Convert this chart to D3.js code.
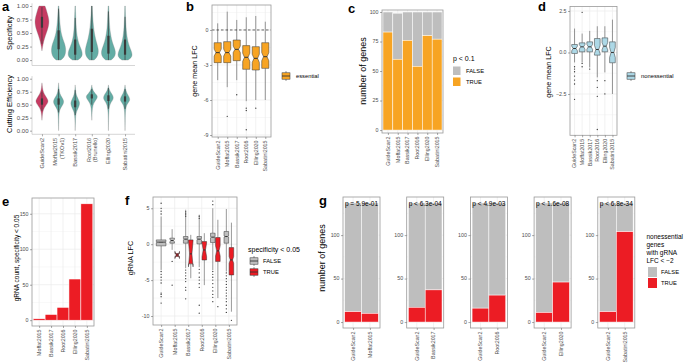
<!DOCTYPE html>
<html><head><meta charset="utf-8">
<script src="https://cdn.jsdelivr.net/npm/d3@7"></script>
<style>body{margin:0;background:#fff}svg{display:block}</style>
</head><body><script>
// ================= DATA =================
const libraries = ["GuideScan2","Moffat2015","Bassik2017","Root2016","Elling2020","Sabatini2015"];
const aLabels = ["GuideScan2","Moffat2015\n(TKOv1)","Bassik2017","Root2016\n(Brunello)","Elling2020","Sabatini2015"];
const aTicks = [0,0.25,0.5,0.75,1];
// violin density profiles: [value, relative width]
const specDensity = [
  [[0.17,0],[0.25,0.08],[0.35,0.24],[0.45,0.46],[0.55,0.75],[0.65,0.93],[0.72,0.97],[0.8,0.88],[0.9,0.66],[0.97,0.5],[1.0,0.4]],
  [[0.0,0.3],[0.05,0.75],[0.12,0.95],[0.2,1.0],[0.3,0.85],[0.4,0.55],[0.5,0.35],[0.6,0.25],[0.7,0.17],[0.8,0.12],[0.9,0.08],[1.0,0.04]],
  [[0.0,0.35],[0.05,0.85],[0.1,1.0],[0.18,0.9],[0.25,0.65],[0.35,0.4],[0.45,0.25],[0.55,0.17],[0.65,0.12],[0.8,0.08],[0.9,0.05],[1.0,0.03]],
  [[0.0,0.3],[0.05,0.7],[0.12,0.9],[0.2,0.9],[0.3,0.7],[0.4,0.5],[0.5,0.35],[0.6,0.25],[0.7,0.18],[0.8,0.12],[0.9,0.08],[1.0,0.05]],
  [[0.0,0.35],[0.05,0.8],[0.12,1.0],[0.2,0.9],[0.3,0.6],[0.4,0.4],[0.5,0.27],[0.6,0.18],[0.7,0.13],[0.8,0.1],[0.9,0.07],[1.0,0.04]],
  [[0.0,0.4],[0.05,0.9],[0.1,1.0],[0.17,0.85],[0.25,0.6],[0.35,0.38],[0.45,0.25],[0.55,0.17],[0.65,0.12],[0.8,0.07],[0.9,0.05],[1.0,0.03]]
];
const specBox = [[0.3,0.6,0.7,0.8,0.98],[0.0,0.2,0.35,0.55,0.95],[0.0,0.1,0.2,0.38,0.78],[0.0,0.15,0.35,0.58,1.0],[0.0,0.12,0.25,0.45,0.9],[0.0,0.1,0.2,0.38,0.8]];
const cutDensity = [
  [[0.2,0],[0.3,0.05],[0.4,0.16],[0.48,0.5],[0.53,0.8],[0.58,0.86],[0.63,0.66],[0.7,0.33],[0.78,0.1],[0.88,0.03],[0.92,0]],
  [[0.0,0],[0.1,0.02],[0.3,0.04],[0.4,0.13],[0.47,0.44],[0.52,0.66],[0.57,0.72],[0.62,0.55],[0.68,0.27],[0.75,0.1],[0.85,0.03],[0.92,0]],
  [[0.0,0],[0.2,0.03],[0.35,0.1],[0.42,0.38],[0.5,0.6],[0.55,0.6],[0.6,0.44],[0.66,0.22],[0.73,0.08],[0.82,0.02],[0.88,0]],
  [[0.2,0],[0.35,0.03],[0.5,0.13],[0.58,0.5],[0.63,0.76],[0.67,0.76],[0.71,0.5],[0.76,0.2],[0.82,0.05],[0.88,0]],
  [[0.0,0],[0.2,0.02],[0.4,0.05],[0.52,0.22],[0.58,0.56],[0.63,0.7],[0.68,0.6],[0.74,0.3],[0.8,0.08],[0.88,0]],
  [[0.0,0],[0.2,0.02],[0.4,0.06],[0.5,0.22],[0.56,0.56],[0.6,0.67],[0.65,0.56],[0.72,0.24],[0.8,0.06],[0.88,0]]
];
const cutBox = [[0.38,0.5,0.56,0.62,0.75],[0.35,0.5,0.56,0.62,0.8],[0.3,0.45,0.52,0.58,0.78],[0.5,0.62,0.66,0.7,0.8],[0.42,0.57,0.63,0.68,0.82],[0.42,0.56,0.61,0.66,0.8]];

// b: essential gene mean LFC  [lo, q1, median, q3, hi]
const bTicks = [0,-3,-6,-9];
const bStats = [[-4.3,-2.8,-1.94,-1.09,0.57],[-4.9,-2.8,-1.94,-1.0,1.57],[-4.3,-2.63,-1.66,-0.86,0.86],[-6.1,-3.37,-2.34,-1.34,1.09],[-6.0,-3.43,-2.43,-1.43,1.2],[-6.0,-3.29,-2.29,-1.09,0.71]];
const bNotch = [0.3,0.3,0.28,0.35,0.35,0.35];
const bOutliers = [[],[-7.4],[-5.55],[-6.7,-6.9,-8.55],[-6.7],[]];

// c: genes with p < 0.1
const cTrue = [83,60,76,54,80,77];
const cTotal = [100,99,100,100,100,100];
const cTicks = [0,25,50,75,100];

// d: nonessential gene mean LFC
const dTicks = [2.5,0,-2.5];
const dStats = [[-0.6,-0.06,0.24,0.48,1.44],[-0.6,0.04,0.34,0.58,1.14],[-0.9,0.04,0.34,0.64,1.3],[-1.5,-0.16,0.18,0.84,1.58],[-1.2,0.04,0.38,0.88,1.58],[-2.5,-0.62,0.0,0.64,1.98]];
const dNotch = [0.14,0.14,0.15,0.25,0.22,0.3];
const dOutliers = [[-0.86,-1.0,-1.16,-1.42,-1.66,-1.9,-2.82],[-0.66,-0.86,2.42],[-1.0],[-1.7,-2.1,-2.64,-4.64],[-1.7,-2.5],[]];

// e: low-specificity gRNA counts
const eLibraries = ["Moffat2015","Bassik2017","Root2016","Elling2020","Sabatini2015"];
const eCounts = [2,8,18,58,164];
const eTicks = [0,50,100,150];

// f: gRNA LFC by specificity < 0.05
const fTicks = [5,0,-5,-10];
const fFalseStats = [[-3.58,-0.23,0.28,0.6,3.86],[-0.79,0.14,0.51,0.84,2.09],[-3.35,0.14,0.7,1.07,4.8],[-3.2,0.05,0.7,1.07,4.1],[-3.6,0.23,0.98,1.53,5.0],[-3.8,0.14,1.07,1.77,4.9]];
const fFalseNotch = [0.06,0.15,0.08,0.08,0.08,0.08];
const fFalseOutliers = [
  [4.2,4.6,5.0,5.7,-3.8,-4.2,-4.6,-5.0,-5.4,-6.8,-7.0,-7.3,-8.2],
  [-2.4,-5.7],
  [4.5,4.2,3.9,-3.6,-4.0,-4.4,-4.8,-5.2,-6.0,-6.4,-7.6],
  [3.9,3.6,-3.5,-4.0,-4.6,-5.0,-5.5,-6.0,-8.5,-9.6],
  [5.5,6.0,-3.8,-4.2,-4.6,-5.0,-5.5,-6.0,-6.5,-7.0,-7.4,-8.0],
  [-4.0,-4.4,-4.8,-5.2,-5.6,-6.0,-6.4,-6.8,-7.2,-7.6,-8.0,-8.5,-9.0,-9.5]
];
const fTrueStats = [null,[-1.3,-1.7,-1.5,-1.3,-1.3],[-4.74,-2.74,-1.35,0.6,1.3],[-5.7,-2.2,-0.8,0.37,1.53],[-7.5,-2.4,-0.93,0.93,3.4],[-9.4,-4.28,-2.19,-0.47,3.0]];
const fTrueNotch = [0,0.5,1.8,0.95,0.7,0.47];
const fTrueOutliers = [[],[],[],[],[-8.7],[-10.6]];

// g: nonessential genes with gRNA LFC < -2
const gOthers = ["Moffat2015","Bassik2017","Root2016","Elling2020","Sabatini2015"];
const gGuideTrue = [12,17,16,11,12];
const gOtherTrue = [10,37,31,46,104];
const gTotal = 137;
const gPvalues = ["p = 5.9e-01","p < 6.3e-04","p < 4.9e-03","p < 1.6e-08","p < 6.8e-34"];
const gTicks = [0,50,100];

// ================= DRAWING =================
const FONT = "Liberation Sans, Arial, Helvetica, sans-serif";
const C = {orange:"#F7A423", red:"#EC1C24", gray:"#BEBEBE", blue:"#ADD8E6", teal:"#63ADA5", pink:"#C63B62",
           tick:"#4D4D4D", border:"#9A9A9A", grid:"#EBEBEB", out:"#333333"};
const svg = d3.select("body").append("svg").attr("width",685).attr("height",363).style("font-family",FONT);

function letter(t,x,y){ svg.append("text").attr("x",x).attr("y",y).attr("font-size",13).attr("font-weight","bold").text(t); }
function yTitle(t,x,cy,fs){ svg.append("text").attr("transform",`translate(${x},${cy}) rotate(-90)`).attr("text-anchor","middle").attr("font-size",fs).attr("fill","#000").text(t); }
function leftAxis(y,ticks,x,fs,fmt){
  const g = svg.append("g").attr("transform",`translate(${x},0)`)
    .call(d3.axisLeft(y).tickValues(ticks).tickSize(2).tickFormat(""));
  g.select(".domain").remove();
  g.selectAll(".tick line").attr("stroke","#555").attr("stroke-width",0.5);
  const f = fmt || (d=>String(d));
  const tg = svg.append("g");
  ticks.forEach(v=>tg.append("text").attr("x",x-3.5).attr("y",y(v)).attr("dy","0.35em")
    .attr("text-anchor","end").attr("font-size",fs).attr("fill",C.tick).text(f(v)));
}
function bottomAxis(x,labels,y0,fs){
  const g = svg.append("g").attr("transform",`translate(0,${y0})`)
    .call(d3.axisBottom(x).tickValues(d3.range(1,labels.length+1)).tickSize(2).tickFormat(""));
  g.select(".domain").remove();
  g.selectAll(".tick line").attr("stroke","#555").attr("stroke-width",0.5);
  const tg = svg.append("g");
  labels.forEach((lab,i)=>{
    const lines = lab.split("\n");
    const t = tg.append("text").attr("transform",`translate(${x(i+1)},${y0+3.5}) rotate(-90)`)
      .attr("text-anchor","end").attr("font-size",fs).attr("fill",C.tick);
    lines.forEach((ln,k)=>t.append("tspan").attr("x",0).attr("dy",k===0?(0.35-(lines.length-1)*0.55)+"em":"1.1em").text(ln));
  });
}
function bwPanel(x,y,major,minor,nx){
  const [x0,x1]=x.range(), [y0,y1]=y.range();
  const g = svg.append("g");
  g.append("rect").attr("x",x0).attr("y",y1).attr("width",x1-x0).attr("height",y0-y1).attr("fill","#fff");
  minor.forEach(v=>g.append("line").attr("x1",x0).attr("x2",x1).attr("y1",y(v)).attr("y2",y(v)).attr("stroke",C.grid).attr("stroke-width",0.35));
  major.forEach(v=>g.append("line").attr("x1",x0).attr("x2",x1).attr("y1",y(v)).attr("y2",y(v)).attr("stroke",C.grid).attr("stroke-width",0.7));
  d3.range(1,nx+1).forEach(v=>g.append("line").attr("x1",x(v)).attr("x2",x(v)).attr("y1",y0).attr("y2",y1).attr("stroke",C.grid).attr("stroke-width",0.7));
}
function border(x,y){
  const [x0,x1]=x.range(), [y0,y1]=y.range();
  svg.append("rect").attr("x",x0).attr("y",y1).attr("width",x1-x0).attr("height",y0-y1).attr("fill","none").attr("stroke",C.border).attr("stroke-width",0.8);
}
function boxplot(cx,w,s,notch,y,fill,outs){
  const [lo,q1,med,q3,hi]=s; const g=svg.append("g");
  g.append("line").attr("x1",cx).attr("x2",cx).attr("y1",y(hi)).attr("y2",y(q3)).attr("stroke",C.out).attr("stroke-width",0.5);
  g.append("line").attr("x1",cx).attr("x2",cx).attr("y1",y(q1)).attr("y2",y(lo)).attr("stroke",C.out).attr("stroke-width",0.5);
  const L=cx-w/2, R=cx+w/2, nw=w/4, p=d3.path();
  p.moveTo(L,y(q3)); p.lineTo(R,y(q3)); p.lineTo(R,y(med+notch)); p.lineTo(R-nw,y(med)); p.lineTo(R,y(med-notch));
  p.lineTo(R,y(q1)); p.lineTo(L,y(q1)); p.lineTo(L,y(med-notch)); p.lineTo(L+nw,y(med)); p.lineTo(L,y(med+notch)); p.closePath();
  g.append("path").attr("d",p.toString()).attr("fill",fill).attr("stroke",C.out).attr("stroke-width",0.5);
  g.append("line").attr("x1",L+nw).attr("x2",R-nw).attr("y1",y(med)).attr("y2",y(med)).attr("stroke",C.out).attr("stroke-width",1);
  outs.forEach(v=>g.append("circle").attr("cx",cx).attr("cy",y(v)).attr("r",0.65).attr("fill",C.out));
}
function boxKey(x,yc,fill){
  const g=svg.append("g");
  g.append("line").attr("x1",x+4).attr("x2",x+4).attr("y1",yc-5).attr("y2",yc+5).attr("stroke",C.out).attr("stroke-width",0.5);
  g.append("rect").attr("x",x).attr("y",yc-3.2).attr("width",8).attr("height",6.4).attr("fill",fill).attr("stroke",C.out).attr("stroke-width",0.5);
  g.append("line").attr("x1",x).attr("x2",x+8).attr("y1",yc).attr("y2",yc).attr("stroke",C.out).attr("stroke-width",0.9);
}
function legendText(t,x,y,fs){ svg.append("text").attr("x",x).attr("y",y).attr("dy","0.35em").attr("font-size",fs).attr("fill","#000").text(t); }

// ---------- panel a ----------
letter("a",2,11);
const aX = d3.scaleLinear().domain([0.4,6.6]).range([32,135]);
function violinPanel(yS,dens,stats,title,cy){
  const [yb,yt]=yS.range();
  svg.append("line").attr("x1",32).attr("x2",32).attr("y1",yt).attr("y2",yb).attr("stroke","#c4c4c4").attr("stroke-width",0.7);
  svg.append("line").attr("x1",32).attr("x2",135).attr("y1",yb).attr("y2",yb).attr("stroke","#c4c4c4").attr("stroke-width",0.7);
  leftAxis(yS,aTicks,32,6,d3.format(".2f"));
  yTitle(title,12,cy,7.5);
  dens.forEach((d,i)=>{
    const cx=aX(i+1), k=7.3;
    const area=d3.area().curve(d3.curveBasis).y(p=>yS(p[0])).x0(p=>cx-p[1]*k).x1(p=>cx+p[1]*k);
    svg.append("path").attr("d",area(d)).attr("fill",i===0?C.pink:C.teal).attr("stroke","#808080").attr("stroke-width",0.3);
    const [lo,q1,med,q3,hi]=stats[i];
    svg.append("line").attr("x1",cx).attr("x2",cx).attr("y1",yS(lo)).attr("y2",yS(hi)).attr("stroke","#3a3a3a").attr("stroke-width",0.7);
    svg.append("line").attr("x1",cx).attr("x2",cx).attr("y1",yS(q1)).attr("y2",yS(q3)).attr("stroke","#3a3a3a").attr("stroke-width",2.2);
  });
}
const aYTop = d3.scaleLinear().domain([-0.1,1.05]).range([65.5,3.3]);
const aYBot = d3.scaleLinear().domain([-0.07,1.05]).range([134.3,76.1]);
violinPanel(aYTop,specDensity,specBox,"Specificity",33);
violinPanel(aYBot,cutDensity,cutBox,"Cutting Efficiency",104);
bottomAxis(aX,aLabels,134.3,5.6);

// ---------- panel b ----------
letter("b",186,11);
const bX = d3.scaleLinear().domain([0.4,6.6]).range([212,271]);
const bY = d3.scaleLinear().domain([-9.17,2.14]).range([137,5]);
bwPanel(bX,bY,bTicks,[1.5,-1.5,-4.5,-7.5],6);
svg.append("line").attr("x1",212).attr("x2",271).attr("y1",bY(0)).attr("y2",bY(0)).attr("stroke","#000").attr("stroke-width",0.6).attr("stroke-dasharray","2.5,2");
const bUnit = bX(1)-bX(0);
bStats.forEach((s,i)=>boxplot(bX(i+1),0.75*bUnit,s,bNotch[i],bY,C.orange,bOutliers[i]));
border(bX,bY);
leftAxis(bY,bTicks,212,5.3);
bottomAxis(bX,libraries,137,5.3);
yTitle("gene mean LFC",197,71,7.2);
boxKey(282,76,C.orange);
legendText("essential",296,76,5.8);

// ---------- panel c ----------
letter("c",348,13);
const cX = d3.scaleLinear().domain([0.4,6.6]).range([382,443]);
const cY = d3.scaleLinear().domain([-2.5,101.7]).range([133,10]);
bwPanel(cX,cY,cTicks,[12.5,37.5,62.5,87.5],6);
const cUnit = cX(1)-cX(0);
cTrue.forEach((v,i)=>{
  svg.append("rect").attr("x",cX(i+0.5)).attr("width",cUnit).attr("y",cY(cTotal[i])).attr("height",cY(v)-cY(cTotal[i])).attr("fill",C.gray).attr("stroke","#fff").attr("stroke-width",0.5);
  svg.append("rect").attr("x",cX(i+0.5)).attr("width",cUnit).attr("y",cY(v)).attr("height",cY(0)-cY(v)).attr("fill",C.orange).attr("stroke","#fff").attr("stroke-width",0.5);
});
border(cX,cY);
leftAxis(cY,cTicks,382,5.3);
bottomAxis(cX,libraries,133,5.3);
yTitle("number of genes",366,71,9);
svg.append("text").attr("x",453).attr("y",59).attr("dy","0.35em").attr("font-size",7).text("p < 0.1");
svg.append("rect").attr("x",453).attr("y",66.5).attr("width",7.5).attr("height",8.5).attr("fill",C.gray);
svg.append("rect").attr("x",453).attr("y",77.5).attr("width",7.5).attr("height",8.5).attr("fill",C.orange);
legendText("FALSE",466,70.8,5.8);
legendText("TRUE",466,81.8,5.8);

// ---------- panel d ----------
letter("d",538,11);
const dX = d3.scaleLinear().domain([0.4,6.6]).range([570,617]);
const dY = d3.scaleLinear().domain([-4.99,2.77]).range([135.3,6.5]);
bwPanel(dX,dY,dTicks,[1.25,-1.25,-3.75],6);
const dUnit = dX(1)-dX(0);
dStats.forEach((s,i)=>boxplot(dX(i+1),0.75*dUnit,s,dNotch[i],dY,C.blue,dOutliers[i]));
border(dX,dY);
leftAxis(dY,dTicks,570,5.3,d3.format(".1f"));
bottomAxis(dX,libraries,135.3,5.3);
yTitle("gene mean LFC",551,72,7.2);
boxKey(627,76,C.blue);
legendText("nonessential",641,76,5.8);

// ---------- panel e ----------
letter("e",2,206);
const eX = d3.scaleLinear().domain([0.4,5.6]).range([32,94]);
const eY = d3.scaleLinear().domain([-8.2,172.2]).range([326,198]);
bwPanel(eX,eY,eTicks,[25,75,125],5);
const eUnit = eX(1)-eX(0);
eCounts.forEach((v,i)=>svg.append("rect").attr("x",eX(i+0.5)).attr("width",eUnit).attr("y",eY(v)).attr("height",eY(0)-eY(v)).attr("fill",C.red).attr("stroke","#fff").attr("stroke-width",0.5));
border(eX,eY);
leftAxis(eY,eTicks,32,5.3);
bottomAxis(eX,eLibraries,326,5.3);
yTitle("gRNA count, specificity < 0.05",19,258,6.5);

// ---------- panel f ----------
letter("f",125,205);
const fX = d3.scaleLinear().domain([0.4,6.6]).range([153,237]);
const fY = d3.scaleLinear().domain([-11.25,6.57]).range([325,197]);
bwPanel(fX,fY,fTicks,[2.5,-2.5,-7.5],6);
const fUnit = fX(1)-fX(0), fW = 0.75*fUnit;
fFalseStats.forEach((s,i)=>{
  const c=fX(i+1);
  if(!fTrueStats[i]){ boxplot(c,fW*0.95,s,fFalseNotch[i],fY,C.gray,fFalseOutliers[i]); }
  else {
    boxplot(c-fW/4,fW/2*0.9,s,fFalseNotch[i],fY,C.gray,fFalseOutliers[i]);
    boxplot(c+fW/4,fW/2*0.9,fTrueStats[i],fTrueNotch[i],fY,C.red,fTrueOutliers[i]);
  }
});
border(fX,fY);
leftAxis(fY,fTicks,153,5.3);
bottomAxis(fX,libraries,325,5.3);
yTitle("gRNA LFC",133,258,7.2);
svg.append("text").attr("x",248).attr("y",250).attr("dy","0.35em").attr("font-size",7).text("specificity < 0.05");
boxKey(250,261,C.gray);
boxKey(250,272,C.red);
legendText("FALSE",263,261,5.8);
legendText("TRUE",263,272,5.8);

// ---------- panel g ----------
letter("g",319,205);
const gY = d3.scaleLinear().domain([-0.05*gTotal,1.05*gTotal]).range([328,197]);
gOthers.forEach((lib,i)=>{
  const x0 = 343 + i*63.7;
  const gX = d3.scaleLinear().domain([0.4,2.6]).range([x0,x0+37]);
  bwPanel(gX,gY,gTicks,[25,75,125],2);
  const u = gX(1)-gX(0);
  [gGuideTrue[i],gOtherTrue[i]].forEach((v,j)=>{
    svg.append("rect").attr("x",gX(j+0.5)).attr("width",u).attr("y",gY(gTotal)).attr("height",gY(v)-gY(gTotal)).attr("fill",C.gray).attr("stroke","#fff").attr("stroke-width",0.5);
    svg.append("rect").attr("x",gX(j+0.5)).attr("width",u).attr("y",gY(v)).attr("height",gY(0)-gY(v)).attr("fill",C.red).attr("stroke","#fff").attr("stroke-width",0.5);
  });
  svg.append("text").attr("x",gX(1.5)).attr("y",203.5).attr("dy","0.35em").attr("text-anchor","middle").attr("font-size",6.5).text(gPvalues[i]);
  border(gX,gY);
  leftAxis(gY,gTicks,x0,5.3);
  bottomAxis(gX,["GuideScan2",lib],328,5.3);
});
yTitle("number of genes",325,258,9);
["nonessential","genes","with gRNA","LFC < \u22122"].forEach((t,k)=>svg.append("text").attr("x",646.5).attr("y",237+k*8).attr("dy","0.35em").attr("font-size",6.5).text(t));
svg.append("rect").attr("x",648).attr("y",267).attr("width",9).attr("height",10).attr("fill",C.gray);
svg.append("rect").attr("x",648).attr("y",278).attr("width",9).attr("height",10).attr("fill",C.red);
legendText("FALSE",661,272,5.8);
legendText("TRUE",661,283,5.8);
</script></body></html>
